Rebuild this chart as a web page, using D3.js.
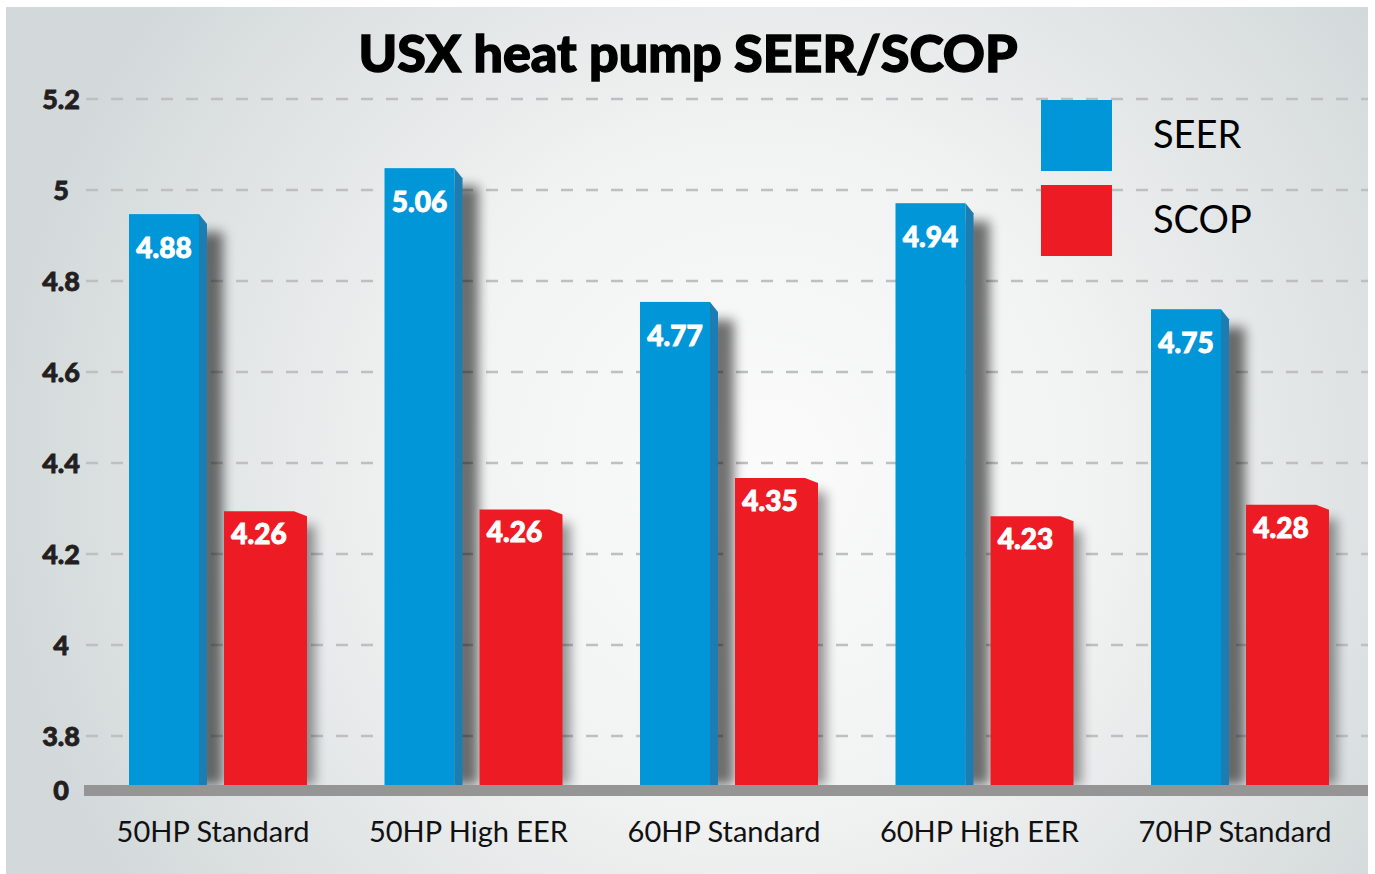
<!DOCTYPE html>
<html>
<head>
<meta charset="utf-8">
<script src="https://cdn.jsdelivr.net/npm/d3@7"></script>
<style>
	html, body { margin: 0; padding: 0; background: #fff; }
	svg { display: block; }
</style>
</head>
<body>
<div id="chart"></div>
<script>
// categories and values as printed on the bars
const categories = ['50HP Standard', '50HP High EER', '60HP Standard', '60HP High EER', '70HP Standard']
const seerLabels = ['4.88', '5.06', '4.77', '4.94', '4.75']
const scopLabels = ['4.26', '4.26', '4.35', '4.23', '4.28']
// bar tops as drawn in the picture (the artwork does not follow its own labels exactly)
const seerDrawn = [4.947, 5.048, 4.754, 4.971, 4.738]
const scopDrawn = [4.294, 4.298, 4.367, 4.283, 4.308]
const yTicks = [3.8, 4, 4.2, 4.4, 4.6, 4.8, 5, 5.2]
const series = ['SEER', 'SCOP']

const W = 1375, H = 874
const BLUE = '#0096d7', BLUE_SIDE = '#1b7db1', RED = '#ed1c24'
const FONT = 'Lato, "DejaVu Sans", sans-serif'

const svg = d3.select('#chart').append('svg')
	.attr('width', W)
	.attr('height', H)

const defs = svg.append('defs')

const bg = defs.append('radialGradient')
	.attr('id', 'bg')
	.attr('gradientUnits', 'userSpaceOnUse')
	.attr('cx', 760).attr('cy', 470).attr('r', 760)
bg.append('stop').attr('offset', '0').attr('stop-color', '#fbfbfb')
bg.append('stop').attr('offset', '0.45').attr('stop-color', '#f1f2f2')
bg.append('stop').attr('offset', '1').attr('stop-color', '#d3d9da')

const blur = defs.append('filter')
	.attr('id', 'shadow')
	.attr('x', '-50%').attr('y', '-10%')
	.attr('width', '200%').attr('height', '120%')
blur.append('feGaussianBlur').attr('stdDeviation', 6)

svg.append('rect')
	.attr('x', 6).attr('y', 7)
	.attr('width', 1362).attr('height', 867)
	.attr('fill', 'url(#bg)')

/*
 * SCALES
 */
const y = d3.scaleLinear().domain([3.8, 5.2]).range([736, 99])
const baseY = 785  // axis break: bars stand on the "0" line

const x = d3.scaleBand().domain(categories).range([129, 1406.5]).padding(0)

const seerW = 70, seerSide = 8, redOffset = 95, scopW = 83, scopSide = 13

/*
 * GRID
 */
svg.append('g')
	.selectAll('line')
	.data(yTicks)
	.join('line')
	.attr('x1', 86).attr('x2', 1368)
	.attr('y1', d => y(d)).attr('y2', d => y(d))
	.attr('stroke', '#bdbfc0')
	.attr('stroke-width', 2.5)
	.attr('stroke-dasharray', '12 13')

const yAxis = svg.append('g')
	.attr('font-family', FONT)
	.attr('font-weight', 900)
	.attr('font-size', 27)
	.attr('fill', '#231f20')
	.attr('stroke', '#231f20')
	.attr('stroke-width', 0.8)
	.attr('text-anchor', 'middle')

yAxis.selectAll('text')
	.data(yTicks)
	.join('text')
	.attr('x', 61)
	.attr('y', d => y(d) + 10)
	.text(d => d3.format('~g')(d))

yAxis.append('text')
	.attr('x', 61)
	.attr('y', baseY + 15)
	.text('0')

/*
 * BARS
 */
const groups = svg.append('g')
	.selectAll('g')
	.data(categories)
	.join('g')

// soft shadows on the right of every bar
groups.append('rect')
	.attr('x', d => x(d) + seerW - 2)
	.attr('y', (d, i) => y(seerDrawn[i]) + 18)
	.attr('width', 26)
	.attr('height', (d, i) => baseY - y(seerDrawn[i]) - 18)
	.attr('fill', '#000')
	.attr('opacity', 0.55)
	.attr('filter', 'url(#shadow)')

groups.append('rect')
	.attr('x', d => x(d) + redOffset + scopW - 14)
	.attr('y', (d, i) => y(scopDrawn[i]) + 14)
	.attr('width', 22)
	.attr('height', (d, i) => baseY - y(scopDrawn[i]) - 14)
	.attr('fill', '#000')
	.attr('opacity', 0.4)
	.attr('filter', 'url(#shadow)')

// SEER: front face + darker side with a slanted top
groups.append('rect')
	.attr('x', d => x(d))
	.attr('y', (d, i) => y(seerDrawn[i]))
	.attr('width', seerW)
	.attr('height', (d, i) => baseY - y(seerDrawn[i]))
	.attr('fill', BLUE)

groups.append('path')
	.attr('d', (d, i) => {
		const x0 = x(d) + seerW, t = y(seerDrawn[i])
		return `M${x0},${t} L${x0 + seerSide},${t + 10} L${x0 + seerSide},${baseY} L${x0},${baseY} Z`
	})
	.attr('fill', BLUE_SIDE)

// SCOP: single red shape with a clipped top-right corner
groups.append('path')
	.attr('d', (d, i) => {
		const x0 = x(d) + redOffset, t = y(scopDrawn[i])
		const x1 = x0 + scopW - scopSide, x2 = x0 + scopW
		return `M${x0},${t} L${x1},${t} L${x2},${t + 5} L${x2},${baseY} L${x0},${baseY} Z`
	})
	.attr('fill', RED)

const valueFont = g => g
	.attr('font-family', FONT)
	.attr('font-weight', 900)
	.attr('font-size', 28)
	.attr('fill', '#fff')
	.attr('stroke', '#fff')
	.attr('stroke-width', 0.9)
	.attr('text-anchor', 'middle')

groups.append('text')
	.call(valueFont)
	.attr('x', d => x(d) + seerW / 2)
	.attr('y', (d, i) => y(seerDrawn[i]) + 44)
	.text((d, i) => seerLabels[i])

groups.append('text')
	.call(valueFont)
	.attr('x', d => x(d) + redOffset + (scopW - scopSide) / 2)
	.attr('y', (d, i) => y(scopDrawn[i]) + 33)
	.text((d, i) => scopLabels[i])

/*
 * X AXIS
 */
svg.append('rect')
	.attr('x', 84).attr('y', baseY)
	.attr('width', 1368 - 84).attr('height', 11)
	.attr('fill', '#959595')

svg.append('g')
	.selectAll('text')
	.data(categories)
	.join('text')
	.attr('x', d => x(d) + 84)
	.attr('y', 842)
	.attr('text-anchor', 'middle')
	.attr('font-family', FONT)
	.attr('font-size', 29)
	.attr('fill', '#111')
	.text(d => d)

/*
 * TITLE + LEGEND
 */
svg.append('text')
	.attr('x', 688)
	.attr('y', 72)
	.attr('text-anchor', 'middle')
	.attr('font-family', FONT)
	.attr('font-weight', 900)
	.attr('font-size', 52)
	.attr('fill', '#000')
	.attr('stroke', '#000')
	.attr('stroke-width', 1.4)
	.text('USX heat pump SEER/SCOP')

const legend = svg.append('g')
	.selectAll('g')
	.data(series)
	.join('g')
	.attr('transform', (d, i) => `translate(1041, ${100 + i * 85})`)

legend.append('rect')
	.attr('width', 71).attr('height', 71)
	.attr('fill', (d, i) => i ? RED : BLUE)

legend.append('text')
	.attr('x', 112)
	.attr('y', 48)
	.attr('font-family', FONT)
	.attr('font-size', 38)
	.attr('fill', '#000')
	.text(d => d)
</script>
</body>
</html>
